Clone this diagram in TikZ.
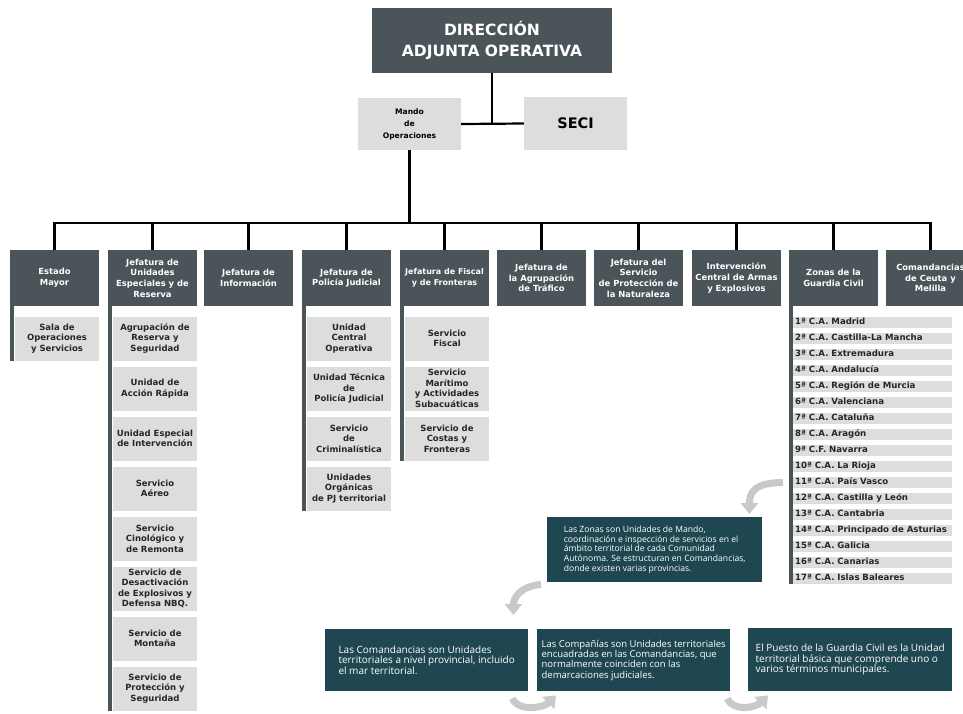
\documentclass[tikz,border=0pt]{standalone}
\usepackage{fontspec}
\setmainfont{DejaVu Sans}
\newfontfamily\notafont{Open Sans}
\usepackage{xcolor}
\usepackage{tikz}
\usetikzlibrary{arrows.meta}

\definecolor{gris}{HTML}{4B5458}
\definecolor{claro}{HTML}{DDDDDD}
\definecolor{azul}{HTML}{1F4751}
\definecolor{flechagris}{HTML}{C9C9C9}

\begin{document}
\begin{tikzpicture}[x=1pt,y=-1pt]
	\tikzstyle{jefatura}=[fill=gris,text=white,font=\fontsize{8.4}{10.7}\selectfont\bfseries,align=center,minimum width=89pt,minimum height=56pt,inner sep=0.5pt]
	\tikzstyle{unidad}=[fill=claro,text=black!85,font=\fontsize{8.5}{10.5}\selectfont\bfseries,align=center,minimum width=84pt,minimum height=44pt,inner sep=0.5pt]
	\tikzstyle{zona}=[fill=claro,text=black!85,font=\fontsize{8.6}{10}\selectfont\bfseries,anchor=west,text width=155pt,text height=6.6pt,text depth=1.9pt,align=left,minimum width=159pt,minimum height=11pt,inner xsep=2pt,inner ysep=0pt]
	\tikzstyle{nota}=[fill=azul,text=white,font=\notafont\fontsize{10}{10.5}\selectfont,align=left,anchor=north west,inner sep=0pt]
	\tikzstyle{linea}=[draw=black,line width=2.2pt]
	\tikzstyle{flecha}=[draw=flechagris,line width=7pt,-{Triangle[width=17pt,length=11pt]}]
	\useasboundingbox (0,0) rectangle (963,713);
	\clip (0,0) rectangle (963,713);
	\fill[white] (0,0) rectangle (963,713);

	% cabecera
	\node[fill=gris,text=white,font=\fontsize{15.5}{21}\selectfont\bfseries,align=center,minimum width=240pt,minimum height=65pt](direccion) at (492,40.5){DIRECCIÓN\\ADJUNTA OPERATIVA};
	\node[fill=claro,font=\fontsize{7.6}{12}\selectfont\bfseries,align=center,minimum width=103pt,minimum height=52pt](mando) at (409.5,124){Mando\\de\\Operaciones};
	\node[fill=claro,font=\fontsize{14.5}{16}\selectfont\bfseries,minimum width=103pt,minimum height=53pt](seci) at (575.5,123.5){SECI};
	\path[linea]
		(direccion.south) edge (direccion.south |- seci.west)
		(mando.east) edge (seci.west);

	% jefaturas
	\node[jefatura](estado) at (54.5,278){Estado\\Mayor};
	\node[jefatura](especiales) at (152.5,278){Jefatura de\\Unidades\\Especiales y de\\Reserva};
	\node[jefatura](informacion) at (248.5,278){Jefatura de\\Información};
	\node[jefatura](judicial) at (346.5,278){Jefatura de\\Policía Judicial};
	\node[jefatura,font=\fontsize{8}{10.7}\selectfont\bfseries](fiscal) at (444.5,278){Jefatura de Fiscal\\y de Fronteras};
	\node[jefatura](trafico) at (541.5,278){Jefatura de\\la Agrupación\\de Tráfico};
	\node[jefatura](naturaleza) at (638.5,278){Jefatura del\\Servicio\\de Protección de\\la Naturaleza};
	\node[jefatura](intervencion) at (736.5,278){Intervención\\Central de Armas\\y Explosivos};
	\node[jefatura](zonas) at (833.5,278){Zonas de la\\Guardia Civil};
	\node[jefatura](ceuta) at (930.5,278){Comandancias\\de Ceuta y\\Melilla};

	\coordinate (bus) at (409.5,223);
	\draw[linea] (mando.south) -- (bus);
	\foreach \j in {estado,especiales,informacion,judicial,fiscal,trafico,naturaleza,intervencion,zonas,ceuta}
		\draw[linea] (bus) -| (\j.north);

	% unidades
	\node[unidad](sala) at (57,338.5){Sala de\\Operaciones\\y Servicios};
	\foreach \texto [count=\i] in {{Agrupación de\\Reserva y\\Seguridad},{Unidad de\\Acción Rápida},{Unidad Especial\\de Intervención},{Servicio\\Aéreo},{Servicio\\Cinológico y\\de Remonta},{Servicio de\\Desactivación\\de Explosivos y\\Defensa NBQ.},{Servicio de\\Montaña},{Servicio de\\Protección y\\Seguridad}}
		\node[unidad](esp\i) at (155,{338.5+50*(\i-1)}){\texto};
	\foreach \texto [count=\i] in {{Unidad\\Central\\Operativa},{Unidad Técnica\\de\\Policía Judicial},{Servicio\\de\\Criminalística},{Unidades\\Orgánicas\\de PJ territorial}}
		\node[unidad](pj\i) at (349,{338.5+50*(\i-1)}){\texto};
	\foreach \texto [count=\i] in {{Servicio\\Fiscal},{Servicio\\Marítimo\\y Actividades\\Subacuáticas},{Servicio de\\Costas y\\Fronteras}}
		\node[unidad](fis\i) at (447,{338.5+50*(\i-1)}){\texto};
	\foreach \texto [count=\i] in {1ª C.A. Madrid,2ª C.A. Castilla-La Mancha,3ª C.A. Extremadura,4ª C.A. Andalucía,5ª C.A. Región de Murcia,6ª C.A. Valenciana,7ª C.A. Cataluña,8ª C.A. Aragón,9ª C.F. Navarra,10ª C.A. La Rioja,11ª C.A. País Vasco,12ª C.A. Castilla y León,13ª C.A. Cantabria,14ª C.A. Principado de Asturias,15ª C.A. Galicia,16ª C.A. Canarias,17ª C.A. Islas Baleares}
		\node[zona](z\i) at (793,{322.5+16*(\i-1)}){\texto};

	\fill[gris] (estado.south west) rectangle ([xshift=-1pt]sala.south west);
	\fill[gris] (especiales.south west) rectangle ([xshift=-1pt]esp8.south west);
	\fill[gris] (judicial.south west) rectangle ([xshift=-1pt]pj4.south west);
	\fill[gris] (fiscal.south west) rectangle ([xshift=-1pt]fis3.south west);
	\fill[gris] (zonas.south west) rectangle (z17.south west);

	% notas
	\node[nota,font=\notafont\fontsize{8.6}{9.8}\selectfont,minimum width=215pt,minimum height=65pt](notaZonas) at (547,517){Las Zonas son Unidades de Mando,\\coordinación e inspección de servicios en el\\ámbito territorial de cada Comunidad\\Autónoma. Se estructuran en Comandancias,\\donde existen varias provincias.};
	\node[nota,minimum width=203pt,minimum height=62pt](notaCom) at (325,629){Las Comandancias son Unidades\\territoriales a nivel provincial, incluido\\el mar territorial.};
	\node[nota,font=\notafont\fontsize{9.5}{10.3}\selectfont,minimum width=193pt,minimum height=62pt](notaCia) at (537,629){Las Compañías son Unidades territoriales\\encuadradas en las Comandancias, que\\normalmente coinciden con las\\demarcaciones judiciales.};
	\node[nota,minimum width=204pt,minimum height=63pt](notaPuesto) at (748,628){El Puesto de la Guardia Civil es la Unidad\\territorial básica que comprende uno o\\varios términos municipales.};

	\coordinate (f1a) at ([xshift=-10pt]z11.west);
	\coordinate (f1b) at ([xshift=-13pt,yshift=3pt]notaZonas.north east);
	\coordinate (f2a) at ([xshift=-6pt,yshift=-2pt]notaZonas.south west);
	\coordinate (f2b) at ([xshift=-15pt,yshift=14pt]notaCom.north east);
	\coordinate (f3a) at ([xshift=-16pt,yshift=-7pt]notaCom.south east);
	\coordinate (f3b) at ([xshift=19pt,yshift=-4pt]notaCia.south west);
	\coordinate (f4a) at ([xshift=-3pt,yshift=-7pt]notaCia.south east);
	\coordinate (f4b) at ([xshift=20pt,yshift=-4pt]notaPuesto.south west);
	\draw[flecha] (f1a) .. controls +(-28,0) and +(0,-22) .. (f1b);
	\draw[flecha] (f2a) .. controls +(-22,2) and +(0,-16) .. (f2b);
	\draw[flecha] (f3a) .. controls +(6,14) and +(-12,12) .. (f3b);
	\draw[flecha] (f4a) .. controls +(6,14) and +(-12,12) .. (f4b);
\end{tikzpicture}
\end{document}
